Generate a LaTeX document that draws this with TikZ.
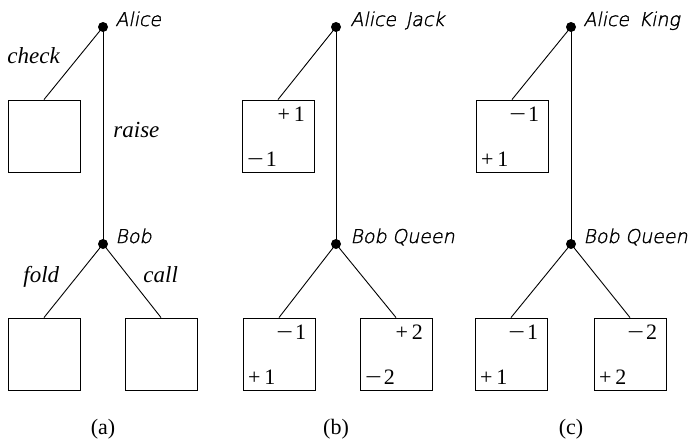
\documentclass[tikz,border=0pt]{standalone}
\usepackage{fontspec}
\setmainfont{Liberation Serif}
\newfontfamily\hand{DejaVu Sans ExtraLight}[FakeSlant=0.2,FakeBold=1.5]
\usetikzlibrary{calc}
\newcommand\payvals[3]{%
  \node[pay,anchor=base east] (#1t) at ($(#1.north east)+(-9,22)$) {#2};
  \node[pay,anchor=base west] (#1b) at ($(#1.south west)+(5,-6)$) {#3};}
\newcommand\pl[1]{+\kern4pt#1}
\newcommand\mi[1]{\scalebox{1.35}[1]{−}\kern2pt#1}
\begin{document}
\begin{tikzpicture}[x=1pt,y=-1pt,line width=0.9pt,
  leaf/.style={draw,minimum size=72pt,inner sep=0pt},
  dot/.style={circle,fill,inner sep=0pt,minimum size=10pt},
  who/.style={font=\hand\fontsize{19}{19}\selectfont,anchor=base west,inner sep=0pt},
  act/.style={font=\itshape\fontsize{23}{23}\selectfont,anchor=base west,inner sep=0pt},
  pay/.style={font=\fontsize{22}{22}\selectfont,inner sep=0pt},
  captxt/.style={font=\fontsize{22}{22}\selectfont,inner sep=0pt}]
\useasboundingbox (0,0) rectangle (691,442);
% ---------- (a)
\node[dot] (aA) at (103,27) {};
\node[dot] (aB) at (103,244) {};
\node[leaf] (aL) at (44,136) {};
\node[leaf] (aBL) at (44,354) {};
\node[leaf] (aBR) at (161,354) {};
\draw (aA.center) -- (aL.north);
\draw (aA.center) -- (aB.center);
\draw (aB.center) -- (aBL.north);
\draw (aB.center) -- (aBR.north);
\node[who] (aAl) at (115,26) {Alice};
\node[who] (aBl) at (115,243) {Bob};
\node[act] (ack) at (7,63) {check};
\node[act] (ara) at (113,137) {raise};
\node[act] (afo) at (23,282) {fold};
\node[act] (aca) at (143,282) {call};
\node[captxt] (acap) at (103,429) {(a)};
% ---------- (b)
\node[dot] (bA) at (336,27) {};
\node[dot] (bB) at (336,244) {};
\node[leaf] (bL) at (278,136) {};
\node[leaf] (bBL) at (279,354) {};
\node[leaf] (bBR) at (396,354) {};
\draw (bA.center) -- (bL.north);
\draw (bA.center) -- (bB.center);
\draw (bB.center) -- (bBL.north);
\draw (bB.center) -- (bBR.north);
\node[who] (bAl) at (350,26) {Alice\hspace{0.5em}Jack};
\node[who] (bBl) at (350,243) {Bob\hspace{0.3em}Queen};
\payvals{bL}{\pl1}{\mi1}
\payvals{bBL}{\mi1}{\pl1}
\payvals{bBR}{\pl2}{\mi2}
\node[captxt] (bcap) at (336,429) {(b)};
% ---------- (c)
\node[dot] (cA) at (571,27) {};
\node[dot] (cB) at (571,244) {};
\node[leaf] (cL) at (512,136) {};
\node[leaf] (cBL) at (511,354) {};
\node[leaf] (cBR) at (630,354) {};
\draw (cA.center) -- (cL.north);
\draw (cA.center) -- (cB.center);
\draw (cB.center) -- (cBL.north);
\draw (cB.center) -- (cBR.north);
\node[who] (cAl) at (583,26) {Alice\hspace{0.5em}King};
\node[who] (cBl) at (583,243) {Bob\hspace{0.3em}Queen};
\payvals{cL}{\mi1}{\pl1}
\payvals{cBL}{\mi1}{\pl1}
\payvals{cBR}{\mi2}{\pl2}
\node[captxt] (ccap) at (571,429) {(c)};
\end{tikzpicture}
\end{document}
